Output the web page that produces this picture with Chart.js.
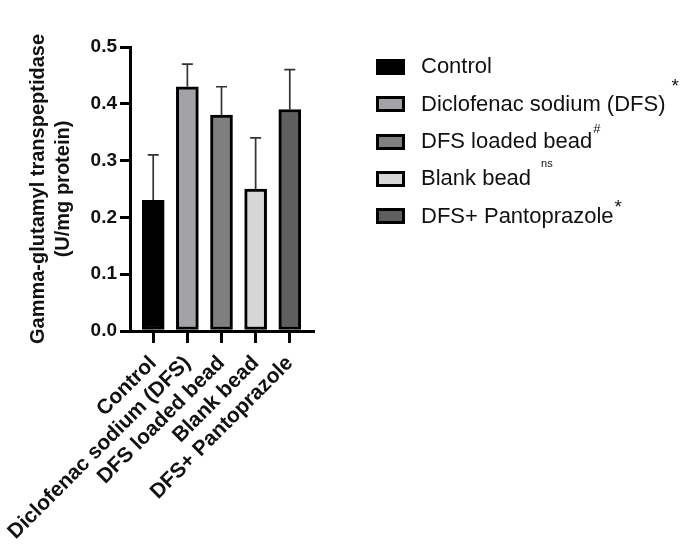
<!DOCTYPE html>
<html lang="en">
<head>
    <meta charset="UTF-8">
    <title>Gamma-glutamyl transpeptidase</title>
    <script src="https://cdn.jsdelivr.net/npm/chart.js"></script>
    <style>
        body { margin: 0; background: #fff; }
        #wrap { position: relative; width: 681px; height: 545px; }
        #legend { position: absolute; left: 0; top: 0; font-family: 'Liberation Sans', Arial, sans-serif; font-size: 22px; color: #111; }
        .row { position: absolute; left: 376px; height: 26px; white-space: nowrap; }
        .box { position: absolute; left: 0; top: 5.6px; width: 29px; height: 16px; border: 3px solid #000; box-sizing: border-box; }
        .lbl { position: absolute; left: 45px; top: 0; line-height: normal; }
        .lbl sup { font-size: 19px; vertical-align: baseline; position: relative; color: #111; }
    </style>
</head>
<body>
<div id="wrap">
    <canvas id="ggtChart" width="681" height="545"></canvas>
    <div id="legend"></div>
</div>
<script>
    const categories = ['Control', 'Diclofenac sodium (DFS)', 'DFS loaded bead', 'Blank bead', 'DFS+ Pantoprazole'];
    const means = [0.23, 0.43, 0.38, 0.25, 0.39];
    const errors = [0.08, 0.04, 0.05, 0.09, 0.07];
    const colors = ['#000000', '#a2a2a7', '#7f7f7f', '#d6d6d6', '#5f5f5f'];
    const marks = ['', '*', '#', 'ns', '*'];
    const yTicks = [0, 0.1, 0.2, 0.3, 0.4, 0.5];

    // legend (html so the superscripts work)
    const markStyle = ['', 'top:-19px;margin-left:6px;', 'top:-15px;font-size:13px;margin-left:1px;',
        'top:-18px;font-size:11px;margin-left:10px;', 'top:-10px;margin-left:1px;'];
    const legend = document.getElementById('legend');
    categories.forEach((c, i) => {
        const row = document.createElement('div');
        row.className = 'row';
        row.style.top = (53.4 + i * 37.3) + 'px';
        const sup = marks[i] ? '<sup style="' + markStyle[i] + '">' + marks[i] + '</sup>' : '';
        row.innerHTML = '<div class="box" style="background:' + colors[i] + '"></div>' +
            '<div class="lbl">' + c + sup + '</div>';
        legend.appendChild(row);
    });

    const errorBars = {
        id: 'errorBars',
        afterDatasetsDraw(chart) {
            const ctx = chart.ctx;
            const y = chart.scales.y;
            const meta = chart.getDatasetMeta(0);
            ctx.save();
            ctx.strokeStyle = '#333';
            ctx.lineWidth = 1.7;
            meta.data.forEach((bar, i) => {
                const top = y.getPixelForValue(means[i] + errors[i]);
                ctx.beginPath();
                ctx.moveTo(bar.x, bar.y);
                ctx.lineTo(bar.x, top);
                ctx.moveTo(bar.x - 5.5, top);
                ctx.lineTo(bar.x + 5.5, top);
                ctx.stroke();
            });
            ctx.restore();
        }
    };

    const ctx = document.getElementById('ggtChart').getContext('2d');
    const chart = new Chart(ctx, {
        type: 'bar',
        data: {
            datasets: [{
                data: means.map((v, i) => ({ x: i, y: v })),
                backgroundColor: colors,
                borderColor: '#000',
                borderWidth: 3,
                borderSkipped: false,
                barThickness: 22
            }]
        },
        options: {
            responsive: false,
            animation: false,
            events: [],
            layout: { padding: { top: 47, right: 368, bottom: 0, left: 0 } },
            plugins: { legend: { display: false }, tooltip: { enabled: false } },
            scales: {
                x: {
                    type: 'linear',
                    offset: false,
                    min: -0.68,
                    max: 4.68,
                    afterBuildTicks: s => { s.ticks = categories.map((c, i) => ({ value: i })); },
                    afterFit: s => { s.height = 214; },
                    grid: { offset: false, drawOnChartArea: false, color: '#000', lineWidth: 3, tickLength: 12 },
                    border: { color: '#000', width: 3 },
                    ticks: {
                        autoSkip: false,
                        minRotation: 45,
                        maxRotation: 45,
                        padding: 8,
                        color: '#111',
                        font: { family: 'Liberation Sans', weight: 'bold', size: 21 },
                        callback: v => categories[v]
                    }
                },
                y: {
                    min: 0,
                    max: 0.5,
                    afterBuildTicks: s => { s.ticks = yTicks.map(v => ({ value: v })); },
                    afterFit: s => { s.width = 130; },
                    grid: { drawOnChartArea: false, color: '#000', lineWidth: 3, tickLength: 10 },
                    border: { color: '#000', width: 3 },
                    ticks: {
                        padding: 3,
                        color: '#111',
                        font: { family: 'Liberation Sans', weight: 'bold', size: 19 },
                        callback: v => v.toFixed(1)
                    },
                    title: {
                        display: true,
                        text: ['Gamma-glutamyl transpeptidase', '(U/mg protein)'],
                        color: '#111',
                        padding: { top: 26, bottom: 0 },
                        font: { family: 'Liberation Sans', weight: 'bold', size: 20, lineHeight: 1.25 }
                    }
                }
            }
        },
        plugins: [errorBars]
    });
</script>
</body>
</html>
